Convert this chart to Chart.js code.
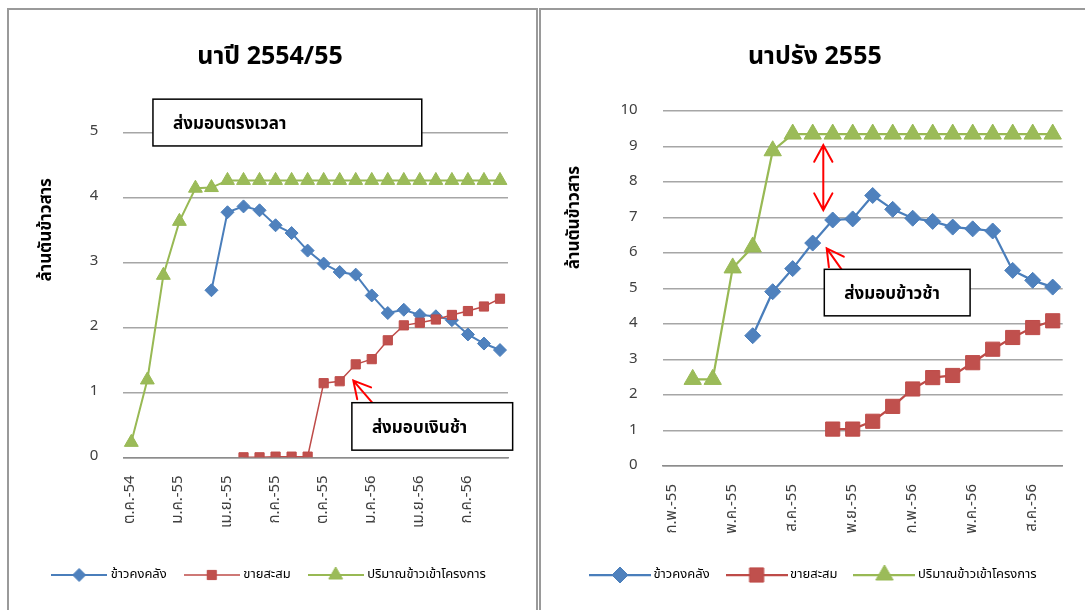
<!DOCTYPE html>
<html>
<head>
<meta charset="utf-8">
<script src="https://cdn.jsdelivr.net/npm/chart.js@4.4.0/dist/chart.umd.min.js"></script>
<style>
  html, body { margin: 0; padding: 0; background: #fff; overflow: hidden; width: 1085px; height: 610px; }
  .panel { position: absolute; border: 2px solid #9a9a9a; box-sizing: border-box; }
  #p1 { left: 7px; top: 8px; width: 531px; height: 640px; }
  #p2 { left: 539px; top: 8px; width: 600px; height: 640px; }
  canvas { position: absolute; top: 0; }
  #c1 { left: 0; }
  #c2 { left: 540px; }
</style>
</head>
<body>
<div class="panel" id="p1"></div>
<div class="panel" id="p2"></div>
<canvas id="c1" width="538" height="610"></canvas>
<canvas id="c2" width="560" height="610"></canvas>
<script>
// ---- series names ----
const seriesNames = ['ข้าวคงคลัง', 'ขายสะสม', 'ปริมาณข้าวเข้าโครงการ'];

// ---- นาปี 2554/55 (ล้านตันข้าวสาร) ----
const titleMain = 'นาปี 2554/55';
const monthsMain = ['ต.ค.-54','พ.ย.-54','ธ.ค.-54','ม.ค.-55','ก.พ.-55','มี.ค.-55','เม.ย.-55','พ.ค.-55',
  'มิ.ย.-55','ก.ค.-55','ส.ค.-55','ก.ย.-55','ต.ค.-55','พ.ย.-55','ธ.ค.-55','ม.ค.-56','ก.พ.-56','มี.ค.-56',
  'เม.ย.-56','พ.ค.-56','มิ.ย.-56','ก.ค.-56','ส.ค.-56','ก.ย.-56'];
const stockMain  = [null, null, null, null, null, 2.57, 3.77, 3.86, 3.80, 3.57, 3.45, 3.18,
  2.98, 2.85, 2.81, 2.49, 2.22, 2.27, 2.19, 2.17, 2.11, 1.89, 1.75, 1.65];
const soldMain   = [null, null, null, null, null, null, null, 0, 0, 0.01, 0.01, 0.01,
  1.14, 1.17, 1.43, 1.51, 1.80, 2.03, 2.07, 2.12, 2.19, 2.25, 2.32, 2.44];
const intakeMain = [0.23, 1.19, 2.80, 3.63, 4.14, 4.15, 4.26, 4.26, 4.26, 4.26, 4.26, 4.26,
  4.26, 4.26, 4.26, 4.26, 4.26, 4.26, 4.26, 4.26, 4.26, 4.26, 4.26, 4.26];
const yTicksMain = [0, 1, 2, 3, 4, 5];

// ---- นาปรัง 2555 (ล้านตันข้าวสาร) ----
const titleOff = 'นาปรัง 2555';
const monthsOff = ['ก.พ.-55','มี.ค.-55','เม.ย.-55','พ.ค.-55','มิ.ย.-55','ก.ค.-55','ส.ค.-55','ก.ย.-55',
  'ต.ค.-55','พ.ย.-55','ธ.ค.-55','ม.ค.-56','ก.พ.-56','มี.ค.-56','เม.ย.-56','พ.ค.-56','มิ.ย.-56',
  'ก.ค.-56','ส.ค.-56','ก.ย.-56'];
const stockOff  = [null, null, null, null, 3.67, 4.91, 5.56, 6.28, 6.93, 6.96, 7.62, 7.23,
  6.98, 6.89, 6.73, 6.68, 6.62, 5.51, 5.23, 5.04];
const soldOff   = [null, null, null, null, null, null, null, null, 1.04, 1.04, 1.26, 1.68,
  2.17, 2.49, 2.55, 2.91, 3.29, 3.62, 3.90, 4.09];
const intakeOff = [null, 2.44, 2.44, 5.58, 6.17, 8.88, 9.35, 9.35, 9.35, 9.35, 9.35, 9.35,
  9.35, 9.35, 9.35, 9.35, 9.35, 9.35, 9.35, 9.35];
const yTicksOff = [0, 1, 2, 3, 4, 5, 6, 7, 8, 9, 10];

const axisTitle = 'ล้านตันข้าวสาร';

// Call-outs, placed in axis units (category index, value)
const notesMain = {
  boxes: [
    { x0: 1.35, x1: 18.12, y0: 5.51, y1: 4.79, text: 'ส่งมอบตรงเวลา' },
    { x0: 13.76, x1: 23.79, y0: 0.84, y1: 0.11, text: 'ส่งมอบเงินช้า' }
  ],
  arrows: [ { from: [15.03, 0.84], to: [13.85, 1.18], twoWay: false } ]
};
const notesOff = {
  boxes: [ { x0: 7.58, x1: 14.87, y0: 5.54, y1: 4.23, text: 'ส่งมอบข้าวช้า' } ],
  arrows: [
    { from: [8.53, 5.47], to: [7.70, 6.13], twoWay: false },
    { from: [7.53, 7.21], to: [7.53, 9.04], twoWay: true }
  ]
};

const FONT = 'Tahoma, "Noto Sans Thai", "Noto Sans", "DejaVu Sans", sans-serif';
Chart.defaults.font.family = FONT;
Chart.defaults.color = '#404040';

const BLUE = '#4a7ebb', BLUE_FILL = '#4f81bd';
const RED = '#be4b48', RED_FILL = '#c0504d';
const GREEN = '#98b954', GREEN_FILL = '#9bbb59';

function drawHead(ctx, tx, ty, fx, fy, len, ang) {
  const a = Math.atan2(fy - ty, fx - tx);
  ctx.moveTo(tx + len * Math.cos(a + ang), ty + len * Math.sin(a + ang));
  ctx.lineTo(tx, ty);
  ctx.lineTo(tx + len * Math.cos(a - ang), ty + len * Math.sin(a - ang));
}

// Vertical axis caption, set in the upper part of the value axis
const axisCaptionPlugin = {
  id: 'axisCaption',
  afterDraw(chart, args, opts) {
    const { ctx, chartArea } = chart;
    ctx.save();
    ctx.translate(opts.x, chartArea.top + opts.frac * (chartArea.bottom - chartArea.top));
    ctx.rotate(-Math.PI / 2);
    ctx.fillStyle = '#000000';
    ctx.font = 'bold 17px ' + FONT;
    ctx.textAlign = 'center';
    ctx.textBaseline = 'middle';
    ctx.fillText(opts.text, 0, 0);
    ctx.restore();
  }
};

const calloutPlugin = {
  id: 'callouts',
  afterDatasetsDraw(chart, args, opts) {
    const { ctx } = chart;
    const xs = chart.scales.x, ys = chart.scales.y;
    const notes = opts.notes;
    if (!notes) return;
    ctx.save();
    // arrows
    ctx.strokeStyle = '#ff0000';
    ctx.lineWidth = 2;
    ctx.lineCap = 'round';
    notes.arrows.forEach(a => {
      const fx = xs.getPixelForValue(a.from[0]), fy = ys.getPixelForValue(a.from[1]);
      const tx = xs.getPixelForValue(a.to[0]), ty = ys.getPixelForValue(a.to[1]);
      ctx.beginPath();
      ctx.moveTo(fx, fy); ctx.lineTo(tx, ty);
      drawHead(ctx, tx, ty, fx, fy, 19, 0.5);
      if (a.twoWay) drawHead(ctx, fx, fy, tx, ty, 19, 0.5);
      ctx.stroke();
    });
    // text boxes
    notes.boxes.forEach(b => {
      const l = xs.getPixelForValue(b.x0), r = xs.getPixelForValue(b.x1);
      const t = ys.getPixelForValue(b.y0), btm = ys.getPixelForValue(b.y1);
      ctx.fillStyle = '#ffffff';
      ctx.fillRect(l, t, r - l, btm - t);
      ctx.strokeStyle = '#000000';
      ctx.lineWidth = 1.5;
      ctx.strokeRect(l, t, r - l, btm - t);
      ctx.fillStyle = '#000000';
      ctx.font = 'bold 17px ' + FONT;
      ctx.textAlign = 'left';
      ctx.textBaseline = 'middle';
      ctx.fillText(b.text, l + 20, (t + btm) / 2 + 3);
    });
    ctx.restore();
  }
};

function swatch(ds, w, h) {
  const c = document.createElement('canvas');
  c.width = w; c.height = h;
  const g = c.getContext('2d');
  g.strokeStyle = ds.borderColor;
  g.lineWidth = ds.borderWidth;
  g.beginPath(); g.moveTo(0, h / 2); g.lineTo(w, h / 2); g.stroke();
  g.fillStyle = ds.pointBackgroundColor;
  g.strokeStyle = ds.pointBorderColor;
  g.lineWidth = 1;
  Chart.helpers.drawPoint(g, { pointStyle: ds.pointStyle, radius: ds.pointRadius, borderWidth: 1, rotation: 0 }, w / 2, h / 2);
  return c;
}

function makeChart(id, cfg) {
  const mk = (label, data, color, fill, style, r, lw, order) => ({
    label, data, order,
    borderColor: color, borderWidth: lw,
    pointStyle: style, pointRadius: r, pointHoverRadius: r,
    pointBackgroundColor: fill, pointBorderColor: color, pointBorderWidth: 1,
    tension: 0, spanGaps: false, fill: false
  });
  const datasets = [
    mk(seriesNames[0], cfg.stock, BLUE, BLUE_FILL, 'rectRot', cfg.rDiamond, cfg.lw[0], 3),
    mk(seriesNames[1], cfg.sold, RED, RED_FILL, 'rect', cfg.rSquare, cfg.lw[1], 2),
    mk(seriesNames[2], cfg.intake, GREEN, GREEN_FILL, 'triangle', cfg.rTri, cfg.lw[2], 1)
  ];
  return new Chart(document.getElementById(id), {
    type: 'line',
    data: { labels: cfg.months, datasets },
    plugins: [calloutPlugin, axisCaptionPlugin],
    options: {
      responsive: false,
      animation: false,
      events: [],
      layout: { padding: cfg.pad },
      plugins: {
        callouts: { notes: cfg.notes },
        axisCaption: { text: axisTitle, x: cfg.captionX, frac: 0.3 },
        tooltip: { enabled: false },
        title: {
          display: true, text: cfg.title, color: '#000000',
          font: { size: 25, weight: 'bold', lineHeight: 1.2 },
          padding: cfg.titlePad
        },
        legend: {
          position: 'bottom',
          labels: {
            usePointStyle: true,
            pointStyleWidth: cfg.swBox,
            padding: 20,
            color: '#404040',
            font: { size: 13 },
            generateLabels: (chart) => chart.data.datasets.map((ds, i) => ({
              text: ds.label,
              pointStyle: swatch(ds, cfg.swW, 22),
              fillStyle: ds.pointBackgroundColor,
              strokeStyle: ds.borderColor,
              lineWidth: 0,
              hidden: false,
              datasetIndex: i
            }))
          }
        }
      },
      scales: {
        x: {
          type: 'category',
          offset: true,
          grid: { display: false, drawTicks: false },
          border: { display: true, color: '#8c8c8c', width: 1.5 },
          afterFit: (s) => { s.height = cfg.xH; },
          ticks: {
            autoSkip: false, minRotation: 90, maxRotation: 90,
            padding: 18, color: '#404040', font: { size: 15 },
            callback: function (v, i) { return i % 3 === 0 ? this.getLabelForValue(v) : ''; }
          }
        },
        y: {
          min: cfg.yTicks[0], max: cfg.yTicks[cfg.yTicks.length - 1],
          afterFit: (s) => { s.width = cfg.yW; },
          afterBuildTicks: (s) => { s.ticks = cfg.yTicks.map(v => ({ value: v })); },
          grid: { color: '#a6a6a6', lineWidth: 1.5, drawTicks: false },
          border: { display: false },
          ticks: { padding: 25, color: '#404040', font: { size: 15 } },
          title: { display: false }
        }
      }
    }
  });
}

makeChart('c1', {
  title: titleMain, months: monthsMain, stock: stockMain, sold: soldMain, intake: intakeMain,
  yTicks: yTicksMain, notes: notesMain,
  rDiamond: 6.5, rSquare: 6.5, rTri: 8, lw: [2, 1.5, 2],
  pad: { left: 32, right: 30, top: 0, bottom: 18.5 },
  titlePad: { top: 44, bottom: 58.3 },
  yW: 91.3, captionX: 48, xH: 91.2, swW: 56, swBox: 50
});

makeChart('c2', {
  title: titleOff, months: monthsOff, stock: stockOff, sold: soldOff, intake: intakeOff,
  yTicks: yTicksOff, notes: notesOff,
  rDiamond: 8, rSquare: 10, rTri: 10, lw: [2.25, 2.25, 2.25],
  pad: { left: 27, right: 37.3, top: 0, bottom: 18.5 },
  titlePad: { top: 44, bottom: 37 },
  yW: 95.7, captionX: 36, xH: 82.5, swW: 62, swBox: 54
});
</script>
</body>
</html>
